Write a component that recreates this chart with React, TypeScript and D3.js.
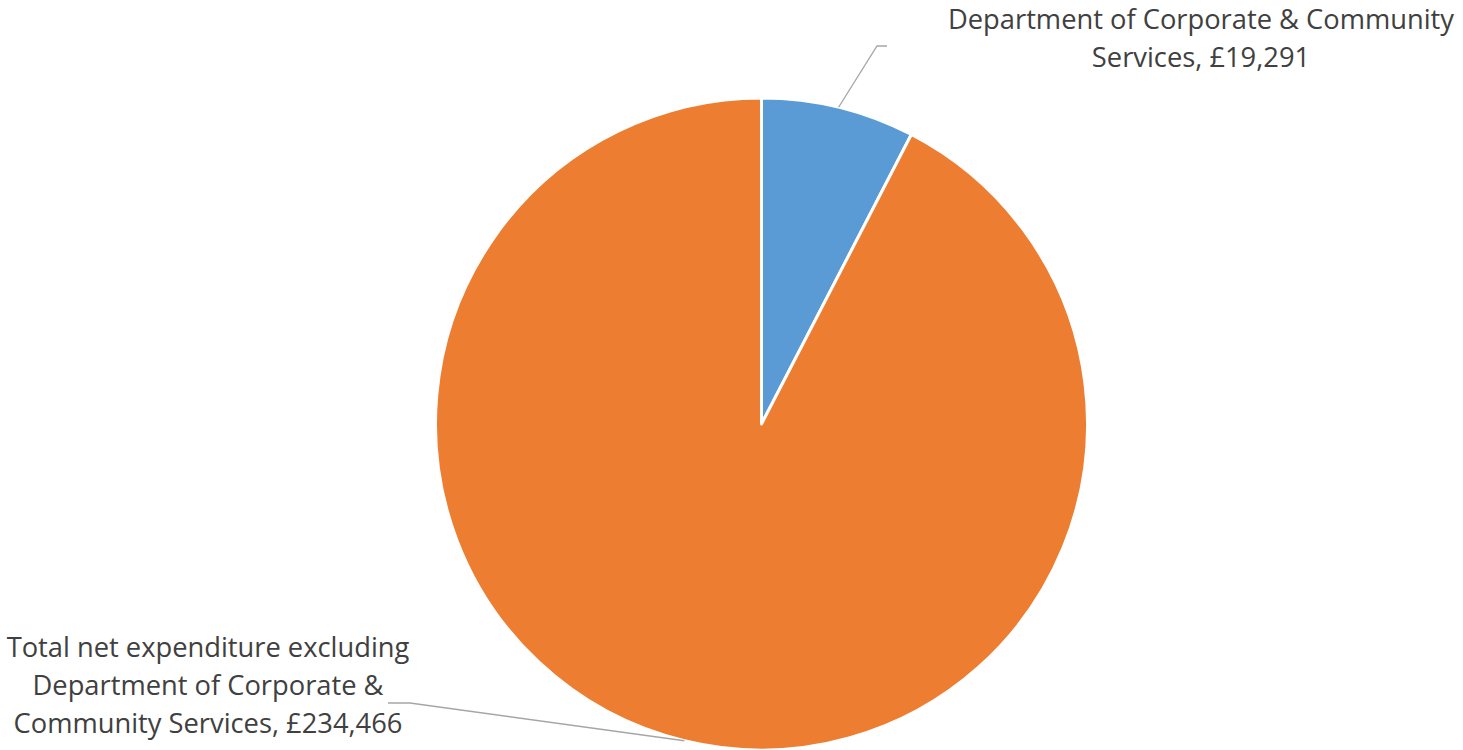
import React from "react";
import * as d3 from "d3";

const categories = [
  "Department of Corporate & Community Services",
  "Total net expenditure excluding Department of Corporate & Community Services",
];
const values = [19291, 234466];
const colors = ["#5B9BD5", "#ED7D31"];
const labelLines = [
  ["Department of Corporate & Community", "Services, £19,291"],
  ["Total net expenditure excluding", "Department of Corporate &", "Community Services, £234,466"],
];

const W = 1463;
const H = 750;
const cx = 761.5;
const cy = 424;
const R = 326;
const FONT = "'Open Sans', sans-serif";
const FS = 27.3;
const LH = 38;

export default function App() {
  const pie = d3.pie<number>().sort(null).value((d) => d)(values);
  const arc = d3.arc<d3.PieArcDatum<number>>().innerRadius(0).outerRadius(R);

  const labelPos = [
    { x: 1201, y: 29, elbow: [877, 46], end: [887, 46] },
    { x: 208, y: 657, elbow: [410, 703], end: [388, 703] },
  ];

  return (
    <svg
      width={W}
      height={H}
      style={{ position: "absolute", left: 0, top: 0, background: "#fff" }}
    >
      <g transform={`translate(${cx},${cy})`}>
        {pie.map((p, i) => (
          <path
            key={categories[i]}
            d={arc(p) || ""}
            fill={colors[i]}
            stroke="#fff"
            strokeWidth={3}
            strokeLinejoin="round"
          />
        ))}
      </g>
      {pie.map((p, i) => {
        const mid = (p.startAngle + p.endAngle) / 2;
        const px = cx + R * Math.sin(mid);
        const py = cy - R * Math.cos(mid);
        const L = labelPos[i];
        return (
          <polyline
            key={"l" + i}
            points={`${px},${py} ${L.elbow[0]},${L.elbow[1]} ${L.end[0]},${L.end[1]}`}
            fill="none"
            stroke="#A6A6A6"
            strokeWidth={1.3}
          />
        );
      })}
      {labelLines.map((lines, i) => (
        <text
          key={"t" + i}
          textAnchor="middle"
          fontFamily={FONT}
          fontSize={FS}
          fill="#404040"
        >
          {lines.map((ln, j) => (
            <tspan key={j} x={labelPos[i].x} y={labelPos[i].y + j * LH}>
              {ln}
            </tspan>
          ))}
        </text>
      ))}
    </svg>
  );
}
